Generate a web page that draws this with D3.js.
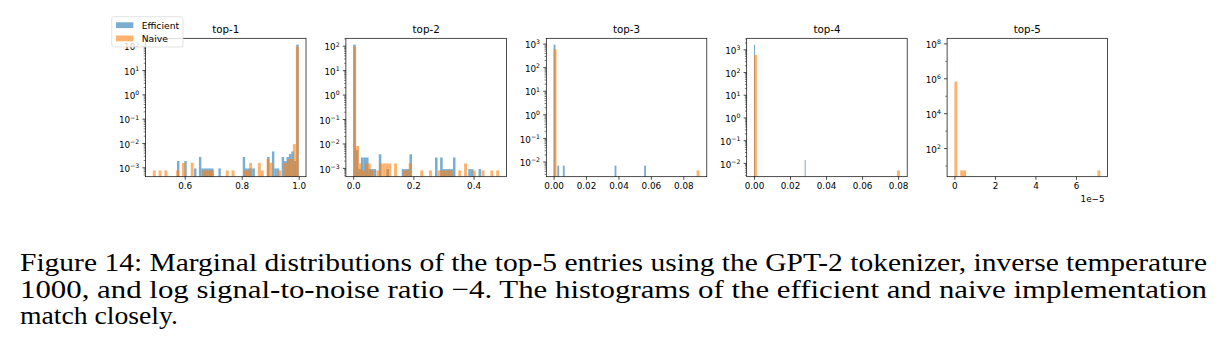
<!DOCTYPE html>
<html><head><meta charset="utf-8">
<script src="https://cdn.jsdelivr.net/npm/d3@7/dist/d3.min.js"></script>
<style>body{margin:0;background:#fff}svg{display:block}</style>
</head><body><svg id="c" width="1222" height="356"></svg>
<script>
// ---------------- data ----------------
const titles = ["top-1", "top-2", "top-3", "top-4", "top-5"];
const seriesNames = ["Efficient", "Naive"];
const nBins = 50;

// top-1
const top1EffRange = [0.573, 1.0];
const top1EffBins = [0,3,7,9,10,11,12,13,14,17,27,28,29,30,31,37,39,40,41,43,44,45,46,47,48,49];
const top1EffDensity = [0.0019,0.0019,0.00094,0.0028,0.00094,0.00094,0.00094,0.00094,0.00094,0.00094,0.0028,0.00094,0.00094,0.00094,0.00094,0.0028,0.0047,0.00094,0.00094,0.0028,0.0019,0.0028,0.0037,0.0047,0.0019,117];
const top1NaiveRange = [0.488, 1.0];
const top1NaiveBins = [0,2,4,8,10,13,17,18,19,20,25,27,31,32,33,36,37,39,40,43,45,46,47,48,49];
const top1NaiveDensity = [0.00078,0.00078,0.00078,0.00078,0.0016,0.0016,0.00078,0.00078,0.00078,0.00078,0.00078,0.00078,0.00078,0.00078,0.0016,0.0016,0.00078,0.0023,0.0016,0.00078,0.0016,0.0023,0.0023,0.0094,96.5];

// top-2
const top2EffRange = [0, 0.425];
const top2EffBins = [0,1,2,3,4,5,6,7,8,10,13,19,20,21,22,32,34,35,36,37,38,39,45,46,49];
const top2EffDensity = [116,0.0056,0.00094,0.0028,0.0028,0.0028,0.00094,0.00094,0.00094,0.0038,0.00094,0.00094,0.00094,0.00094,0.0038,0.0028,0.0028,0.00094,0.00094,0.00094,0.00094,0.0028,0.00094,0.00094,0.00094];
const top2NaiveRange = [0, 0.485];
const top2NaiveBins = [0,1,2,3,4,5,6,8,9,10,11,12,14,17,18,19,23,26,29,30,31,32,33,36,38,41,44,47,49];
const top2NaiveDensity = [96.5,0.0083,0.0016,0.00083,0.0016,0.0016,0.00083,0.00083,0.0016,0.0016,0.0016,0.0016,0.0016,0.00083,0.00083,0.0016,0.00083,0.00083,0.00083,0.00083,0.00083,0.00083,0.00083,0.00083,0.0016,0.00083,0.00083,0.00083,0.00083];

// top-3
const top3EffRange = [0, 0.057];
const top3EffBins = [0,2,5,33,49];
const top3EffDensity = [950,0.0070,0.0070,0.0070,0.0070];
const top3NaiveRange = [0, 0.09];
const top3NaiveBins = [0,49];
const top3NaiveDensity = [600,0.0044];

// top-4
const top4EffRange = [0, 0.0287];
const top4EffBins = [0,49];
const top4EffDensity = [1700,0.014];
const top4NaiveRange = [0, 0.081];
const top4NaiveBins = [0,49];
const top4NaiveDensity = [600,0.0049];

// top-5
const top5EffRange = [0, 5.5e-7];
const top5EffBins = [0];
const top5EffDensity = [9.1e7];
const top5NaiveRange = [0, 7.2e-5];
const top5NaiveBins = [0,2,3,49];
const top5NaiveDensity = [6.9e5,5.6,5.6,5.6];

// ticks
const xTicks = [[0.6,0.8,1.0],[0,0.2,0.4],[0,0.02,0.04,0.06,0.08],[0,0.02,0.04,0.06,0.08],[0,2e-5,4e-5,6e-5]];
const xTickLabels = [["0.6","0.8","1.0"],["0.0","0.2","0.4"],["0.00","0.02","0.04","0.06","0.08"],["0.00","0.02","0.04","0.06","0.08"],["0","2","4","6"]];
const yTickExps = [[-3,-2,-1,0,1,2],[-3,-2,-1,0,1,2],[-2,-1,0,1,2,3],[-2,-1,0,1,2,3],[2,4,6,8]];
const xOffsetLabels = ["","","","","1e\u22125"];
const caption = [
  "Figure 14: Marginal distributions of the top-5 entries using the GPT-2 tokenizer, inverse temperature",
  "1000, and log signal-to-noise ratio \u22124.  The histograms of the efficient and naive implementation",
  "match closely."
];

// --------------- assemble ---------------
const panels = [
  [[top1EffRange, top1EffBins, top1EffDensity], [top1NaiveRange, top1NaiveBins, top1NaiveDensity]],
  [[top2EffRange, top2EffBins, top2EffDensity], [top2NaiveRange, top2NaiveBins, top2NaiveDensity]],
  [[top3EffRange, top3EffBins, top3EffDensity], [top3NaiveRange, top3NaiveBins, top3NaiveDensity]],
  [[top4EffRange, top4EffBins, top4EffDensity], [top4NaiveRange, top4NaiveBins, top4NaiveDensity]],
  [[top5EffRange, top5EffBins, top5EffDensity], [top5NaiveRange, top5NaiveBins, top5NaiveDensity]]
].map(p => p.map(([range, bins, dens]) => {
  const bw = (range[1] - range[0]) / nBins;
  return bins.map((k, i) => ({x0: range[0] + k * bw, x1: range[0] + (k + 1) * bw, v: dens[i]}));
}));
const ranges = [
  [top1EffRange, top1NaiveRange],[top2EffRange, top2NaiveRange],[top3EffRange, top3NaiveRange],
  [top4EffRange, top4NaiveRange],[top5EffRange, top5NaiveRange]
];

const colors = ["#1f77b4", "#ff7f0e"];
const svg = d3.select("#c");
const font = "'DejaVu Sans', sans-serif";
const left0 = 145.5, step = 200.4, pw = 160.5, plotTop = 38.3, plotBottom = 176.7;
const tickFs = 8.8;

panels.forEach((series, pi) => {
  const L = left0 + pi * step, R = L + pw;
  const lo = d3.min(ranges[pi], r => r[0]), hi = d3.max(ranges[pi], r => r[1]);
  const m = (hi - lo) * 0.05;
  const xs = d3.scaleLinear().domain([lo - m, hi + m]).range([L, R]);
  const allV = series.flat().map(d => d.v);
  const lmin = Math.log10(d3.min(allV)), lmax = Math.log10(d3.max(allV));
  const lm = (lmax - lmin) * 0.05;
  const ys = d3.scaleLog().domain([Math.pow(10, lmin - lm), Math.pow(10, lmax + lm)]).range([plotBottom, plotTop]);

  const g = svg.append("g");
  const cid = "clip" + pi;
  g.append("clipPath").attr("id", cid).append("rect")
    .attr("x", L).attr("y", plotTop).attr("width", pw).attr("height", plotBottom - plotTop);
  const bars = g.append("g").attr("clip-path", `url(#${cid})`);
  series.forEach((s, si) => {
    bars.selectAll(null).data(s).enter().append("rect")
      .attr("x", d => xs(d.x0))
      .attr("width", d => Math.max(0.02, xs(d.x1) - xs(d.x0)))
      .attr("y", d => ys(d.v))
      .attr("height", d => plotBottom - ys(d.v))
      .attr("fill", colors[si]).attr("fill-opacity", 0.6);
  });

  // x axis
  const xa = d3.axisBottom(xs).tickValues(xTicks[pi]).tickSize(3.1).tickPadding(3)
    .tickFormat((d, i) => xTickLabels[pi][i]);
  const gx = g.append("g").attr("transform", `translate(0,${plotBottom})`).call(xa);
  gx.select(".domain").remove();
  gx.selectAll("line").attr("stroke", "#000").attr("stroke-width", 0.7);
  gx.selectAll("text").attr("font-family", font).attr("font-size", tickFs).attr("fill", "#000");

  // y axis: major ticks
  const majors = yTickExps[pi];
  const gy = g.append("g");
  gy.selectAll("line.maj").data(majors).enter().append("line")
    .attr("x1", L - 3.1).attr("x2", L)
    .attr("y1", e => ys(Math.pow(10, e))).attr("y2", e => ys(Math.pow(10, e)))
    .attr("stroke", "#000").attr("stroke-width", 0.7);
  // minor ticks
  const dom = ys.domain();
  let minors = [];
  if (pi < 4) {
    for (let e = Math.floor(Math.log10(dom[0])); e <= Math.ceil(Math.log10(dom[1])); e++)
      for (let k = 2; k <= 9; k++) { const v = k * Math.pow(10, e); if (v > dom[0] && v < dom[1]) minors.push(v); }
  } else {
    for (let e = Math.floor(Math.log10(dom[0])); e <= Math.ceil(Math.log10(dom[1])); e++)
      if (e % 2 !== 0) { const v = Math.pow(10, e); if (v > dom[0] && v < dom[1]) minors.push(v); }
  }
  gy.selectAll("line.min").data(minors).enter().append("line")
    .attr("x1", L - 1.8).attr("x2", L)
    .attr("y1", v => ys(v)).attr("y2", v => ys(v))
    .attr("stroke", "#000").attr("stroke-width", 0.5);
  const lab = gy.selectAll("text").data(majors).enter().append("text")
    .attr("x", L - 6.3).attr("y", e => ys(Math.pow(10, e)) + 4.2)
    .attr("text-anchor", "end").attr("font-family", font).attr("font-size", tickFs).attr("fill", "#000");
  lab.append("tspan").text("10");
  lab.append("tspan").attr("dy", -3.8).attr("font-size", tickFs * 0.7)
    .text(e => (e < 0 ? "\u2212" : "") + Math.abs(e));

  // frame
  g.append("rect").attr("x", L).attr("y", plotTop).attr("width", pw).attr("height", plotBottom - plotTop)
    .attr("fill", "none").attr("stroke", "#000").attr("stroke-width", 0.7);

  // title
  g.append("text").attr("x", (L + R) / 2).attr("y", 32.5).attr("text-anchor", "middle")
    .attr("font-family", font).attr("font-size", 10.3).attr("fill", "#000").text(titles[pi]);

  if (xOffsetLabels[pi]) {
    g.append("text").attr("x", R - 3).attr("y", 202).attr("text-anchor", "end")
      .attr("font-family", font).attr("font-size", tickFs).attr("fill", "#000").text(xOffsetLabels[pi]);
  }
});

// legend
const lg = svg.append("g");
lg.append("rect").attr("x", 111.7).attr("y", 16.7).attr("width", 71.3).attr("height", 30.3).attr("rx", 2)
  .attr("fill", "#fff").attr("fill-opacity", 0.8).attr("stroke", "#d6d6d6").attr("stroke-width", 0.7);
seriesNames.forEach((n, i) => {
  lg.append("rect").attr("x", 116).attr("y", 22.3 + i * 13.2).attr("width", 17.3).attr("height", 5.8)
    .attr("fill", colors[i]).attr("fill-opacity", 0.6);
  lg.append("text").attr("x", 141.7).attr("y", 28.7 + i * 13.2).attr("font-family", font)
    .attr("font-size", 9.2).attr("fill", "#000").text(n);
});

// caption
const capY = [271, 297.5, 324];
const capLen = [1187, 1187, 158];
caption.forEach((t, i) => {
  svg.append("text").attr("x", 20).attr("y", capY[i])
    .attr("font-family", "'Liberation Serif', 'Times New Roman', serif")
    .attr("font-size", 26).attr("fill", "#000")
    .attr("textLength", capLen[i]).attr("lengthAdjust", "spacingAndGlyphs")
    .text(t);
});
</script></body></html>
